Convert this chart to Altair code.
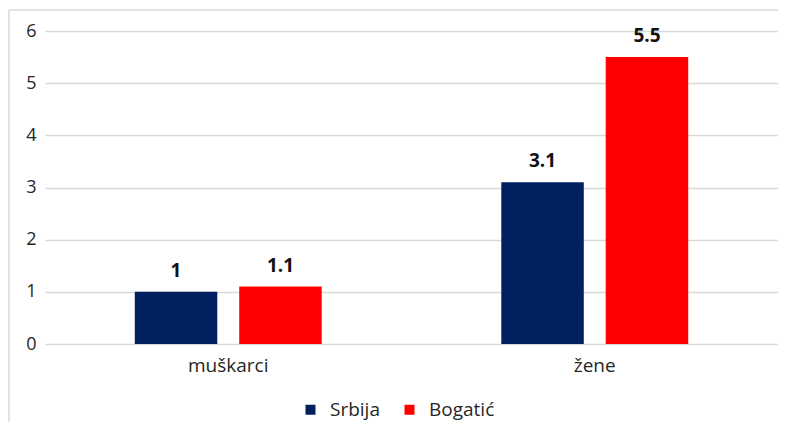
import altair as alt
import pandas as pd

categories = ["muškarci", "žene"]
series = ["Srbija", "Bogatić"]
srbija = [1, 3.1]
bogatic = [1.1, 5.5]
colors = ["#002060", "#FF0000"]
y_ticks = [0, 1, 2, 3, 4, 5, 6]

rows = []
for i, c in enumerate(categories):
    rows.append({"kat": c, "serija": series[0], "v": srbija[i]})
    rows.append({"kat": c, "serija": series[1], "v": bogatic[i]})
df = pd.DataFrame(rows)
df["lab"] = df["v"].map(lambda v: f"{v:g}")

FONT = "Open Sans"
TXT = "#262626"

x = alt.X(
    "kat:N",
    sort=categories,
    scale=alt.Scale(paddingInner=0.49, paddingOuter=0.245),
    axis=alt.Axis(
        title=None, labelAngle=0, ticks=False, domain=False,
        labelFont=FONT, labelFontSize=19, labelPadding=12, labelColor=TXT,
        grid=False,
    ),
)
xo = alt.XOffset("serija:N", sort=series, scale=alt.Scale(paddingInner=0.21, paddingOuter=0))
y = alt.Y(
    "v:Q",
    scale=alt.Scale(domain=[0, 6], nice=False),
    axis=alt.Axis(
        values=y_ticks, title=None, ticks=False, domain=False,
        gridColor="#d9d9d9", gridWidth=1.3,
        labelFont=FONT, labelFontSize=18, labelPadding=9, labelColor=TXT,
    ),
)
color = alt.Color(
    "serija:N",
    sort=series,
    scale=alt.Scale(domain=series, range=colors),
    legend=alt.Legend(
        title=None, orient="none", legendX=256, legendY=369,
        direction="horizontal", symbolType="square", symbolSize=100,
        symbolStrokeWidth=0, labelFont=FONT, labelFontSize=19, labelColor=TXT,
        labelOffset=10, columnPadding=20,
    ),
)

base = alt.Chart(df)
bars = base.mark_bar().encode(x=x, xOffset=xo, y=y, color=color)
labels = base.mark_text(
    baseline="alphabetic", dy=-15, fontWeight="bold", font=FONT, fontSize=19, color="#111111"
).encode(x=x, xOffset=xo, y=y, text="lab:N")

frame = pd.DataFrame({"a": [0]})
left_border = alt.Chart(frame).mark_rule(color="#d9d9d9", strokeWidth=1.5).encode(
    x=alt.value(-36), y=alt.value(-21), y2=alt.value(500)
)
top_border = alt.Chart(frame).mark_rule(color="#d9d9d9", strokeWidth=1.5).encode(
    x=alt.value(-36), x2=alt.value(800), y=alt.value(-21)
)

chart = alt.layer(left_border, top_border, bars, labels).properties(
    width=733,
    height=313,
    autosize=alt.AutoSizeParams(type="none"),
    padding={"left": 37, "top": 23, "right": 0, "bottom": 78},
).configure_view(stroke=None)

chart.save("out.html", embed_options={"renderer": "svg", "actions": False})
